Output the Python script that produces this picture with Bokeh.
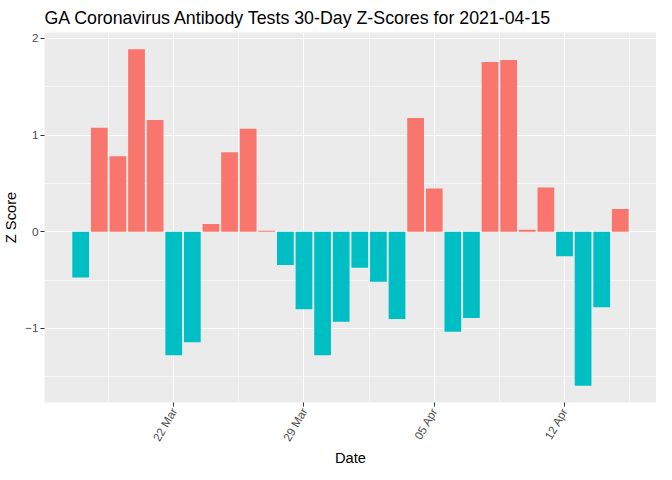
import math
import datetime as dt
from bokeh.plotting import figure
from bokeh.models import (Range1d, FixedTicker, DatetimeTickFormatter, ColumnDataSource,
                          Title)
from bokeh.embed import file_html
from bokeh.resources import INLINE

# ---- data ----
date_strings = [
    "2021-03-17", "2021-03-18", "2021-03-19", "2021-03-20", "2021-03-21",
    "2021-03-22", "2021-03-23", "2021-03-24", "2021-03-25", "2021-03-26",
    "2021-03-27", "2021-03-28", "2021-03-29", "2021-03-30", "2021-03-31",
    "2021-04-01", "2021-04-02", "2021-04-03", "2021-04-04", "2021-04-05",
    "2021-04-06", "2021-04-07", "2021-04-08", "2021-04-09", "2021-04-10",
    "2021-04-11", "2021-04-12", "2021-04-13", "2021-04-14", "2021-04-15",
]
z_scores = [
    -0.474, 1.076, 0.782, 1.888, 1.157,
    -1.279, -1.144, 0.081, 0.822, 1.066,
    0.010, -0.345, -0.802, -1.279, -0.931,
    -0.372, -0.518, -0.904, 1.178, 0.447,
    -1.036, -0.893, 1.756, 1.777, 0.020,
    0.457, -0.254, -1.594, -0.782, 0.234,
]
major_tick_dates = ["2021-03-22", "2021-03-29", "2021-04-05", "2021-04-12"]
minor_tick_dates = ["2021-03-18 12:00", "2021-03-25 12:00", "2021-04-01 12:00",
                    "2021-04-08 12:00", "2021-04-15 12:00"]
y_major = [-1, 0, 1, 2]
y_minor = [-1.5, -0.5, 0.5, 1.5]

POS_COLOR = "#F8766D"
NEG_COLOR = "#00BFC4"

DAY_MS = 86400000.0


def to_ms(s):
    fmt = "%Y-%m-%d %H:%M" if " " in s else "%Y-%m-%d"
    d = dt.datetime.strptime(s, fmt).replace(tzinfo=dt.timezone.utc)
    return d.timestamp() * 1000.0


x_ms = [to_ms(s) for s in date_strings]
colors = [POS_COLOR if v > 0 else NEG_COLOR for v in z_scores]
src = ColumnDataSource(dict(x=x_ms, top=z_scores, color=colors))

bar_w = 0.9
lo = min(x_ms) - bar_w / 2 * DAY_MS
hi = max(x_ms) + bar_w / 2 * DAY_MS
pad = 0.05 * (hi - lo)
ylo, yhi = min(z_scores), max(z_scores)
ypad = 0.05 * (yhi - ylo)
y0, y1 = ylo - ypad, yhi + ypad

p = figure(
    width=656, height=464,
    x_axis_type="datetime",
    x_range=Range1d(lo - pad, hi + pad),
    y_range=Range1d(y0, y1),
    output_backend="svg", toolbar_location=None,
    title="GA Coronavirus Antibody Tests 30-Day Z-Scores for 2021-04-15",
    min_border_left=35, min_border_right=0, min_border_top=0, min_border_bottom=0,
)

p.vbar(x="x", width=bar_w * DAY_MS, top="top", bottom=0, source=src,
       fill_color="color", line_color=None)

p.background_fill_color = "#EBEBEB"
p.border_fill_color = "white"
p.outline_line_color = None

p.title.text_font = "Liberation Sans"
p.title.text_font_size = "17.8px"
p.title.text_font_style = "normal"
p.title.text_color = "black"
p.title.standoff = 10
p.title.offset = 0

p.xaxis.ticker = FixedTicker(ticks=[to_ms(s) for s in major_tick_dates],
                             minor_ticks=[to_ms(s) for s in minor_tick_dates])
p.xaxis.formatter = DatetimeTickFormatter(
    milliseconds="%d %b", seconds="%d %b", minsec="%d %b", minutes="%d %b",
    hourmin="%d %b", hours="%d %b", days="%d %b", months="%d %b", years="%d %b")
p.yaxis.ticker = FixedTicker(ticks=y_major, minor_ticks=y_minor)

for ax in (p.xaxis, p.yaxis):
    ax.axis_line_color = None
    ax.major_tick_line_color = "#333333"
    ax.major_tick_line_width = 1
    ax.major_tick_out = 4
    ax.major_tick_in = 0
    ax.minor_tick_line_color = None
    ax.major_label_text_font = "Liberation Sans"
    ax.major_label_text_font_size = "11.7px"
    ax.major_label_text_color = "#4D4D4D"
    ax.axis_label_text_font = "Liberation Sans"
    ax.axis_label_text_font_size = "14.7px"
    ax.axis_label_text_font_style = "normal"
    ax.axis_label_text_color = "black"
    ax.major_label_standoff = 2
    ax.axis_label_standoff = 3

p.yaxis.axis_label = "Z Score"
p.xaxis.axis_label = None
p.xaxis.axis_label_standoff = 0
p.xaxis.major_label_orientation = math.pi / 3

# x axis title as a centred title below the axis
p.add_layout(Title(text="Date", align="center", standoff=-3,
                   text_font="Liberation Sans", text_font_size="14.7px",
                   text_font_style="normal", text_color="black"), "below")

for g in (p.xgrid, p.ygrid):
    g.grid_line_color = "white"
    g.grid_line_width = 1.1
    g.minor_grid_line_color = "white"
    g.minor_grid_line_width = 0.55

open("out.html", "w").write(file_html(p, INLINE))
